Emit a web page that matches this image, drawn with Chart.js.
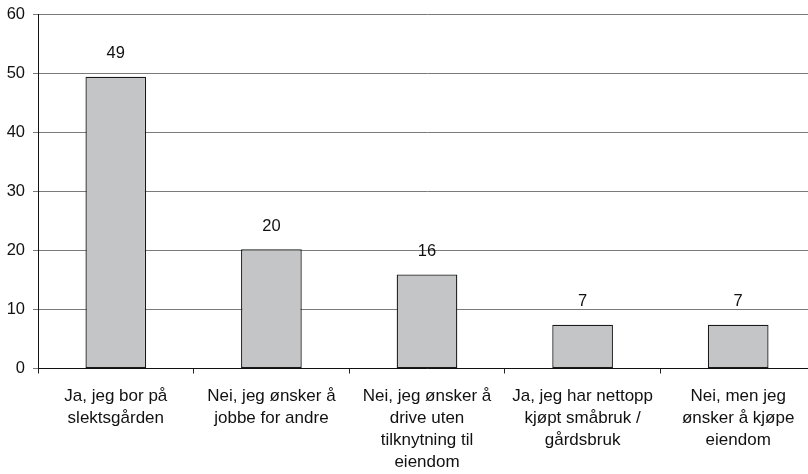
<!DOCTYPE html>
<html>
<head>
  <meta charset="UTF-8">
  <title>Søyle diagram</title>
  <script src="https://cdn.jsdelivr.net/npm/chart.js@4.4.1/dist/chart.umd.min.js"></script>
  <style>
    html, body {
      margin: 0;
      padding: 0;
      width: 808px;
      height: 474px;
      background: #ffffff;
      overflow: hidden;
    }
    #myChart {
      position: absolute;
      left: 0;
      top: 0;
    }
  </style>
</head>
<body>
  <canvas id="myChart" width="816" height="474"></canvas>

  <script>
    // kategorier (linjeskift som egne elementer)
    const categories = [
      ["Ja, jeg bor på", "slektsgården"],
      ["Nei, jeg ønsker å", "jobbe for andre"],
      ["Nei, jeg ønsker å", "drive uten", "tilknytning til", "eiendom"],
      ["Ja, jeg har nettopp", "kjøpt småbruk /", "gårdsbruk"],
      ["Nei, men jeg", "ønsker å kjøpe", "eiendom"]
    ];
    const values = [49.4, 20.2, 15.9, 7.4, 7.4];
    const yTicks = [0, 10, 20, 30, 40, 50, 60];

    const FONT = "'Liberation Sans', Arial, sans-serif";

    // tall over søylene
    const valueLabels = {
      id: 'valueLabels',
      afterDatasetsDraw(chart) {
        const ctx = chart.ctx;
        const meta = chart.getDatasetMeta(0);
        ctx.save();
        ctx.font = "16.5px " + FONT;
        ctx.fillStyle = '#111';
        ctx.textAlign = 'center';
        ctx.textBaseline = 'middle';
        meta.data.forEach((bar, i) => {
          ctx.fillText(Math.round(values[i]), bar.x, bar.y - 23);
        });
        ctx.restore();
      }
    };

    new Chart(document.getElementById('myChart'), {
      type: 'bar',
      data: {
        labels: categories,
        datasets: [{
          data: values,
          backgroundColor: '#c4c5c6',
          borderColor: '#1a1a1a',
          borderWidth: 1.3,
          borderSkipped: false,
          barPercentage: 0.39,
          categoryPercentage: 1
        }]
      },
      options: {
        responsive: false,
        animation: false,
        layout: { padding: { top: 14, left: 0, right: 0, bottom: 0 } },
        plugins: {
          legend: { display: false },
          tooltip: { enabled: false }
        },
        scales: {
          x: {
            offset: true,
            afterFit(scale) {
              scale.height = 105.5;
              scale.paddingLeft = 0;
              scale.paddingRight = 0;
            },
            grid: {
              offset: true,
              drawOnChartArea: false,
              tickLength: 5,
              color: '#222'
            },
            border: { color: '#111', width: 1 },
            ticks: {
              color: '#111',
              font: { family: FONT, size: 17, lineHeight: 1.294 },
              maxRotation: 0,
              autoSkip: false,
              padding: 11.5
            }
          },
          y: {
            min: 0,
            max: 60,
            afterBuildTicks(axis) {
              axis.ticks = yTicks.map(v => ({ value: v }));
            },
            afterFit(scale) {
              scale.width = 38;
              scale.paddingTop = 0;
              scale.paddingBottom = 0;
            },
            grid: {
              color: '#7a7a7a',
              tickLength: 5,
              lineWidth: 1
            },
            border: { color: '#111', width: 1 },
            ticks: {
              color: '#111',
              font: { family: FONT, size: 16.5 },
              padding: 8
            }
          }
        }
      },
      plugins: [valueLabels]
    });
  </script>
</body>
</html>
